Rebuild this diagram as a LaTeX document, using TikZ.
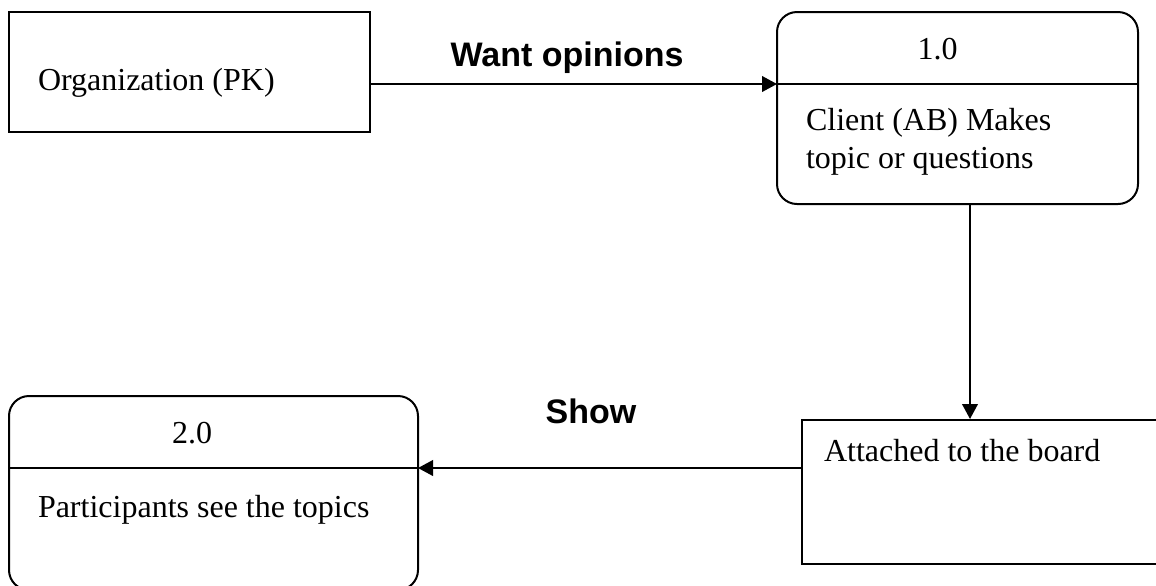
\documentclass[tikz,border=0pt]{standalone}
\usepackage{fontspec}
\setmainfont{Liberation Serif}
\newfontfamily\labelfont{Liberation Sans}
\usetikzlibrary{arrows.meta}
\begin{document}
\begin{tikzpicture}[x=0.5pt,y=-0.5pt,
    line width=1pt,
    entity/.style={draw,rectangle,inner sep=0pt},
    process/.style={draw,rectangle,rounded corners=10pt,inner sep=0pt},
    txt/.style={inner sep=0pt,anchor=base west,font=\fontsize{16}{19.5}\selectfont},
    num/.style={inner sep=0pt,anchor=base,font=\fontsize{16}{19.5}\selectfont},
    flowlabel/.style={inner sep=0pt,anchor=base,font=\labelfont\bfseries\fontsize{17}{20}\selectfont},
    flow/.style={-{Triangle[length=7.5pt,width=7.8pt]}}]
  \useasboundingbox (0,0) rectangle (1156,585);
  \clip (0,0) rectangle (1156,585);

  % external entity and data store
  \node[entity,minimum width=180.5pt,minimum height=60pt] (org) at (189.5,72) {};
  \node[entity,minimum width=184pt,minimum height=72pt] (att) at (986,492) {};

  % processes with a header strip
  \node[process,minimum width=180.5pt,minimum height=96pt] (p1) at (957.5,108) {};
  \node[process,minimum width=204.5pt,minimum height=97pt] (p2) at (213.5,493) {};
  \coordinate (d1w) at (777,84);
  \coordinate (d2e) at (418,468);
  \draw (d1w) -- (d1w -| p1.east);
  \draw (d2e) -- (d2e -| p2.west);

  % texts
  \node[txt] (orgtext) at (37,90) {Organization (PK)};
  \node[num] (p1num) at (937.5,59) {1.0};
  \node[txt] (p1a) at (805,130) {Client (AB) Makes};
  \node[txt] (p1b) at (805,168) {topic or questions};
  \node[txt] (atttext) at (823,461) {Attached to the board};
  \node[num] (p2num) at (192,443) {2.0};
  \node[txt] (p2text) at (37,517) {Participants see the topics};

  % data flows
  \draw[flow] (org.east |- d1w) -- (d1w);
  \coordinate (v) at (970,204);
  \draw[flow] (v) -- (v |- att.north);
  \draw[flow] (att.west |- d2e) -- (d2e);
  \node[flowlabel] (lwant) at (567,66) {Want opinions};
  \node[flowlabel] (lshow) at (591,423) {Show};
\end{tikzpicture}
\end{document}
